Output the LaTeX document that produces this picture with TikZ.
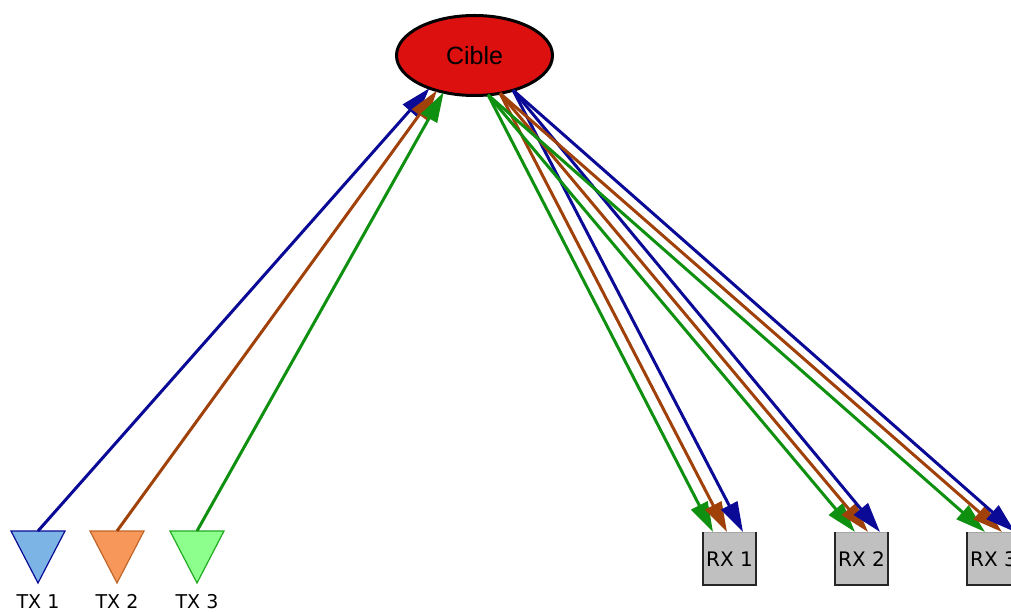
\documentclass[tikz,border=0pt]{standalone}
\usepackage{fontspec}
\setmainfont{DejaVu Sans}
\newfontfamily\ciblefont{Liberation Sans}
\usetikzlibrary{arrows.meta,shapes.geometric}
\definecolor{bleu}{HTML}{0A0A96}
\definecolor{brun}{HTML}{A0410A}
\definecolor{vert}{HTML}{109010}
\definecolor{rouge}{HTML}{DD1010}
\definecolor{gris}{HTML}{C0C0C0}
\begin{document}
\begin{tikzpicture}[x=1pt,y=-1pt,
    fleche/.style={line width=3pt,-{Triangle[length=30pt,width=18pt]}},
    tx/.style={isosceles triangle,shape border rotate=-90,isosceles triangle stretches,
        minimum width=54pt,minimum height=52pt,inner sep=0pt,outer sep=0pt,line width=1.2pt,anchor=north},
    rx/.style={rectangle,fill=gris,draw=black!35,line width=0.6pt,minimum width=53pt,
        minimum height=53pt,inner sep=0pt,outer sep=0pt,text height=15pt,text depth=0pt,
        font=\fontsize{20}{24}\selectfont},
    lbl/.style={font=\fontsize{19}{23}\selectfont,text height=14pt,text depth=0pt}]
    \useasboundingbox (0,0) rectangle (1011,612);
    \node [ellipse,draw,line width=3pt,fill=rouge,minimum width=156pt,minimum height=80pt,
        inner sep=0pt,outer sep=0pt,font=\ciblefont\fontsize{25}{30}\selectfont] (cible) at (474.5,55.5) {Cible};
    \node [tx,draw=bleu,fill={rgb,255:red,124;green,181;blue,229}] (tx1) at (38,531) {};
    \node [tx,draw={rgb,255:red,192;green,101;blue,42},fill={rgb,255:red,247;green,152;blue,90}] (tx2) at (117,531) {};
    \node [tx,draw={rgb,255:red,34;green,170;blue,34},fill={rgb,255:red,140;green,255;blue,140}] (tx3) at (197,531) {};
    \node [lbl] (t1) at (38,601.5) {TX 1};
    \node [lbl] (t2) at (117,601.5) {TX 2};
    \node [lbl] (t3) at (197,601.5) {TX 3};
    \node [rx] (rx1) at (729.5,558.5) {RX 1};
    \node [rx] (rx2) at (861.5,558.5) {RX 2};
    \node [rx] (rx3) at (993.5,558.5) {RX 3};
    \draw [line width=2pt,black!85] (rx1.north west) -- (rx1.south west) -- (rx1.south east) -- (rx1.north east);
    \draw [line width=2pt,black!85] (rx2.north west) -- (rx2.south west) -- (rx2.south east) -- (rx2.north east);
    \draw [line width=2pt,black!85] (rx3.north west) -- (rx3.south west) -- (rx3.south east) -- (rx3.north east);
    \draw [fleche,bleu] (tx1.north) -- (cible.216);
    \draw [fleche,brun] (tx2.north) -- (cible.223);
    \draw [fleche,vert] (tx3.north) -- (cible.230);
    \draw [fleche,vert] (cible.289) -- ([xshift=-16.5pt]rx1.north);
    \draw [fleche,brun] (cible.304) -- ([xshift=-2.5pt]rx1.north);
    \draw [fleche,bleu] (cible.318) -- ([xshift=13.5pt]rx1.north);
    \draw [fleche,vert] (cible.289) -- ([xshift=-6.5pt]rx2.north);
    \draw [fleche,brun] (cible.304) -- ([xshift=6.5pt]rx2.north);
    \draw [fleche,bleu] (cible.318) -- ([xshift=18.5pt]rx2.north);
    \draw [fleche,vert] (cible.289) -- ([xshift=-8.5pt]rx3.north);
    \draw [fleche,brun] (cible.304) -- ([xshift=8.5pt]rx3.north);
    \draw [fleche,bleu] (cible.318) -- ([xshift=21.5pt]rx3.north);
\end{tikzpicture}
\end{document}
